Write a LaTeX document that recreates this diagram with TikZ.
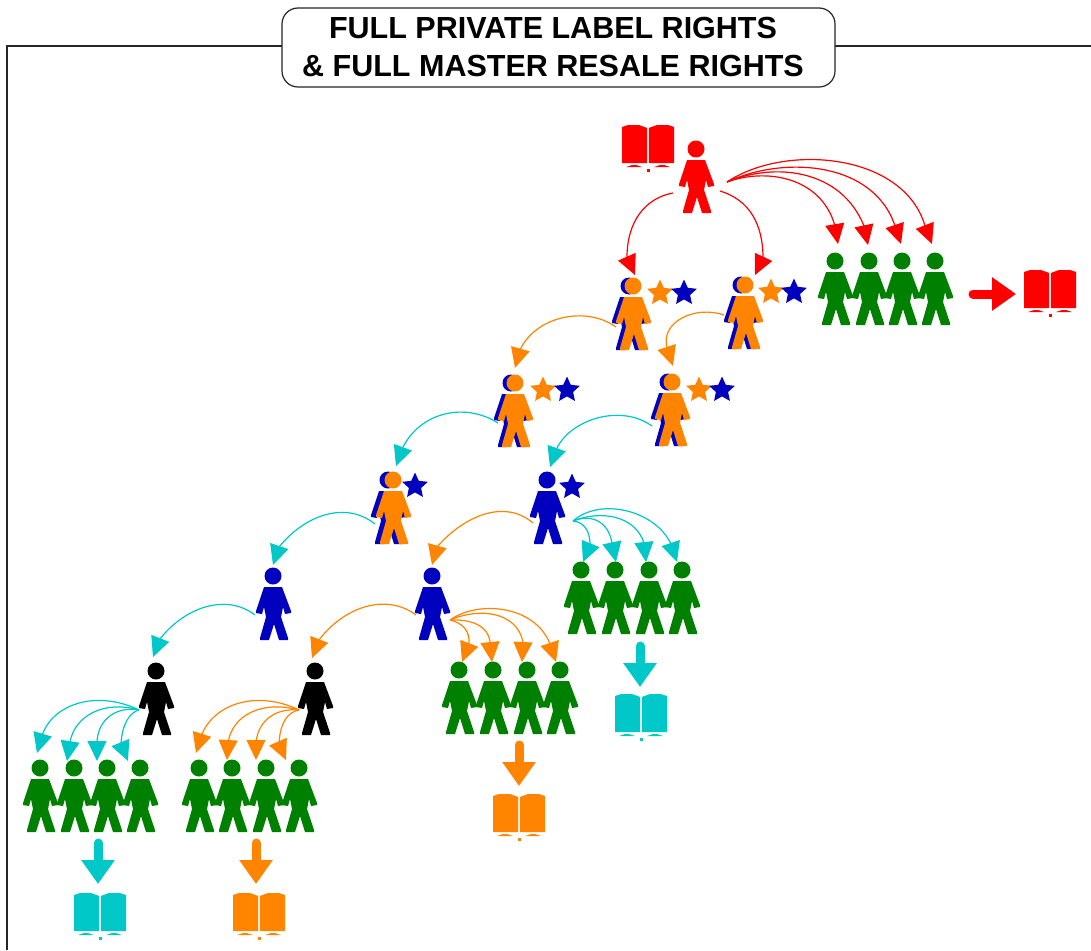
\documentclass[tikz,border=0pt]{standalone}
\usepackage{fontspec}
\setmainfont{Liberation Sans}
\usetikzlibrary{arrows.meta,shapes.geometric}
\definecolor{cred}{HTML}{FF0000}
\definecolor{cgreen}{HTML}{008000}
\definecolor{cblue}{HTML}{0000BE}
\definecolor{corange}{HTML}{FF8400}
\definecolor{ccyan}{HTML}{00C8C8}
\tikzset{
  framepath/.style={draw=black!85,line width=1.2pt},
  titlebox/.style={framepath,fill=white,rounded corners=16pt,minimum width=553pt,minimum height=79pt,
    align=center,inner sep=0pt,font=\fontsize{30.5}{38}\selectfont\bfseries},
  holder/.style={inner sep=0pt,outer sep=0pt,draw=none},
  curved/.style={line width=1.2pt,-{Triangle[length=20pt,width=19pt]}},
  blockarrow/.style={line width=9pt,line cap=round,-{Triangle[length=24pt,width=32pt]}},
  starbadge/.style={star,star points=5,star point ratio=2.1,inner sep=0pt,outer sep=0pt,minimum size=27pt}
}
% person figure: head centre at (#2,#3)
\newcommand\figshape[3]{%
  \fill[#1,shift={(#2,#3)}] (0,0) circle[radius=8.5pt]
    (-9,11)--(9,11)--(18,35)--(18,37)--(12,38)--(10,31)--(8,41)--(15,62)--(15,64)--(6,64)--(1,48)--(-4,64)--(-13,64)--(-13,62)--(-7,41)--(-9,31)--(-11,38)--(-17,37)--(-17,35)--cycle;}
\newcommand\person[4]{%
  \node[holder,minimum width=36pt,minimum height=72pt] (#1) at (#2,#3+28) {};
  \figshape{#4}{#2}{#3}}
% orange figure with a blue one behind it
\newcommand\dualperson[4]{%
  \node[holder,minimum width=36pt,minimum height=72pt] (#1) at (#2,#3+28) {};
  \figshape{cblue}{#2-#4}{#3}
  \figshape{corange}{#2}{#3}}
% group of four linked green figures, head centres given
\newcommand\crowd[6]{%
  \node[holder,minimum width=#5-#2+36,minimum height=88pt] (#1) at ({(#2+#5)/2},#6+28) {};
  \figshape{cgreen}{#2}{#6}\figshape{cgreen}{#3}{#6}\figshape{cgreen}{#4}{#6}\figshape{cgreen}{#5}{#6}}
% open book: centre x, top y
\newcommand\book[4]{%
  \node[holder,minimum width=52pt,minimum height=60pt] (#1) at (#2,#3+23) {};
  \begin{scope}[shift={(#2,#3)}]
    \fill[#4] (-26,2)--(-20,0)--(-9,0)--(-0.8,3)--(-0.8,38)--(-26,38)--cycle;
    \fill[#4] (26,2)--(20,0)--(9,0)--(0.8,3)--(0.8,38)--(26,38)--cycle;
    \fill[#4] (-22,42)--(-16,40)--(-12,40)--(-6,42)--cycle;
    \fill[#4] (22,42)--(16,40)--(12,40)--(6,42)--cycle;
    \fill[#4] (-1.5,44) rectangle (1.5,46.5);
  \end{scope}}
% curved connector: id, colour, start, control1, control2, neck of head, tip
\newcommand\conn[7]{%
  \coordinate (#1s) at #3; \coordinate (#1b) at #6; \coordinate (#1t) at #7;
  \draw[curved,#2] (#1s) .. controls #4 and #5 .. (#1b) -- (#1t);}
\begin{document}
\begin{tikzpicture}[x=1pt,y=-1pt]
\useasboundingbox (0,0) rectangle (1091,950);
\fill[white] (0,0) rectangle (1091,950);
% frame and title
\coordinate (fbl) at (7,950); \coordinate (ftl) at (7,46); \coordinate (ftr) at (1091,46);
\draw[framepath] (fbl) -- (ftl) -- (ftr);
\node[titlebox] (title) at (558.5,47.5) {FULL PRIVATE LABEL RIGHTS\kern11pt\\\& FULL MASTER RESALE RIGHTS\kern11pt};

% connectors
\conn{a1}{cred}{(673,193)}{(645,198)}{(627,222)}{(627,257)}{(635,275)}
\conn{a2}{cred}{(720,191)}{(750,200)}{(763,225)}{(763,258)}{(755,275)}
\conn{a3}{cred}{(727,182)}{(765,168)}{(821,176)}{(835,226)}{(838,244)}
\conn{a4}{cred}{(727,182)}{(775,162)}{(841,169)}{(864,226)}{(868,245)}
\conn{a5}{cred}{(727,182)}{(785,155)}{(874,162)}{(895,226)}{(901,244)}
\conn{a6}{cred}{(727,182)}{(785,143)}{(904,153)}{(925,226)}{(932,244)}

\conn{o1}{corange}{(616,327)}{(585,305)}{(535,317)}{(520,350)}{(515,368)}
\conn{o2}{corange}{(724,315)}{(695,305)}{(660,322)}{(667,348)}{(673,366)}
\conn{c1}{ccyan}{(498,423)}{(465,402)}{(421,412)}{(403,447)}{(396,466)}
\conn{c2}{ccyan}{(652,426)}{(620,403)}{(569,420)}{(556,450)}{(550,467)}
\conn{c3}{ccyan}{(375,524)}{(345,500)}{(304,516)}{(279,547)}{(273,565)}
\conn{o3}{corange}{(533,523)}{(505,499)}{(465,515)}{(437,547)}{(432,565)}

\conn{d1}{ccyan}{(573,521)}{(582,522)}{(590,528)}{(590,545)}{(583,562)}
\conn{d2}{ccyan}{(573,521)}{(590,514)}{(608,520)}{(612,543)}{(616,562)}
\conn{d3}{ccyan}{(573,521)}{(600,510)}{(635,515)}{(644,543)}{(646,562)}
\conn{d4}{ccyan}{(573,521)}{(600,497)}{(655,510)}{(671,544)}{(677,562)}

\conn{c4}{ccyan}{(255,615)}{(225,592)}{(183,609)}{(160,639)}{(153,657)}
\conn{o4}{corange}{(416,615)}{(385,592)}{(343,608)}{(319,640)}{(312,658)}

\conn{e1}{corange}{(450,620)}{(462,623)}{(470,630)}{(469,644)}{(462,662)}
\conn{e2}{corange}{(450,620)}{(470,619)}{(488,625)}{(490,642)}{(492,662)}
\conn{e3}{corange}{(450,620)}{(480,607)}{(517,612)}{(523,642)}{(522,662)}
\conn{e4}{corange}{(450,620)}{(478,600)}{(535,605)}{(550,644)}{(556,662)}

\conn{f1}{corange}{(299,710)}{(258,690)}{(215,703)}{(202,734)}{(196,753)}
\conn{f2}{corange}{(299,710)}{(262,700)}{(232,715)}{(228,743)}{(227,760)}
\conn{f3}{corange}{(299,710)}{(278,708)}{(259,718)}{(256,742)}{(256,760)}
\conn{f4}{corange}{(299,710)}{(288,712)}{(280,722)}{(279,744)}{(286,760)}

\conn{g1}{ccyan}{(139,710)}{(98,690)}{(55,703)}{(43,733)}{(37,753)}
\conn{g2}{ccyan}{(139,710)}{(105,700)}{(75,715)}{(70,742)}{(67,761)}
\conn{g3}{ccyan}{(139,710)}{(118,706)}{(98,718)}{(97,742)}{(97,761)}
\conn{g4}{ccyan}{(139,710)}{(130,712)}{(122,724)}{(121,744)}{(128,761)}

% figures
\person{top}{696}{149}{cred}
\book{bookA}{648}{125}{cred}
\dualperson{p1}{633}{286}{4}
\dualperson{p2}{745}{285}{4}
\node[starbadge,fill=corange] (s1o) at (660,293) {}; \node[starbadge,fill=cblue] (s1b) at (684,293) {};
\node[starbadge,fill=corange] (s2o) at (771,292) {}; \node[starbadge,fill=cblue] (s2b) at (794,292) {};
\dualperson{p3}{515}{383}{4}
\dualperson{p4}{672}{382}{4}
\node[starbadge,fill=corange] (s3o) at (543,390) {}; \node[starbadge,fill=cblue] (s3b) at (567,390) {};
\node[starbadge,fill=corange] (s4o) at (699,390) {}; \node[starbadge,fill=cblue] (s4b) at (722,390) {};
\dualperson{p5}{393}{480}{5}
\person{p6}{547}{480}{cblue}
\node[starbadge,fill=cblue] (s5b) at (415,486) {}; \node[starbadge,fill=cblue] (s6b) at (572,487) {};
\person{p7}{273}{576}{cblue}
\person{p8}{432}{576}{cblue}
\person{p9}{156}{671}{black}
\person{p10}{315}{671}{black}

\crowd{gA}{835}{869}{902}{935}{261}
\crowd{gB}{581}{615}{649}{682}{570}
\crowd{gC}{459}{493}{527}{560}{670}
\crowd{gD}{40}{74}{107}{140}{768}
\crowd{gE}{199}{232}{266}{299}{768}

% books
\book{bookB}{1050}{270}{cred}
\book{bookC}{641}{694}{ccyan}
\book{bookD}{519}{794}{corange}
\book{bookE}{100}{893}{ccyan}
\book{bookF}{259}{893}{corange}

% block arrows
\coordinate (ra) at (973,294); \coordinate (rb) at (1016,294);
\draw[blockarrow,cred] (ra) -- (rb);
\coordinate (ca) at (640,646); \coordinate (cb) at (640,687);
\draw[blockarrow,ccyan] (ca) -- (cb);
\coordinate (oa) at (519,745); \coordinate (ob) at (519,786);
\draw[blockarrow,corange] (oa) -- (ob);
\coordinate (ea) at (98,843); \coordinate (eb) at (98,884);
\draw[blockarrow,ccyan] (ea) -- (eb);
\coordinate (fa) at (256,843); \coordinate (fb) at (256,884);
\draw[blockarrow,corange] (fa) -- (fb);
\end{tikzpicture}
\end{document}
